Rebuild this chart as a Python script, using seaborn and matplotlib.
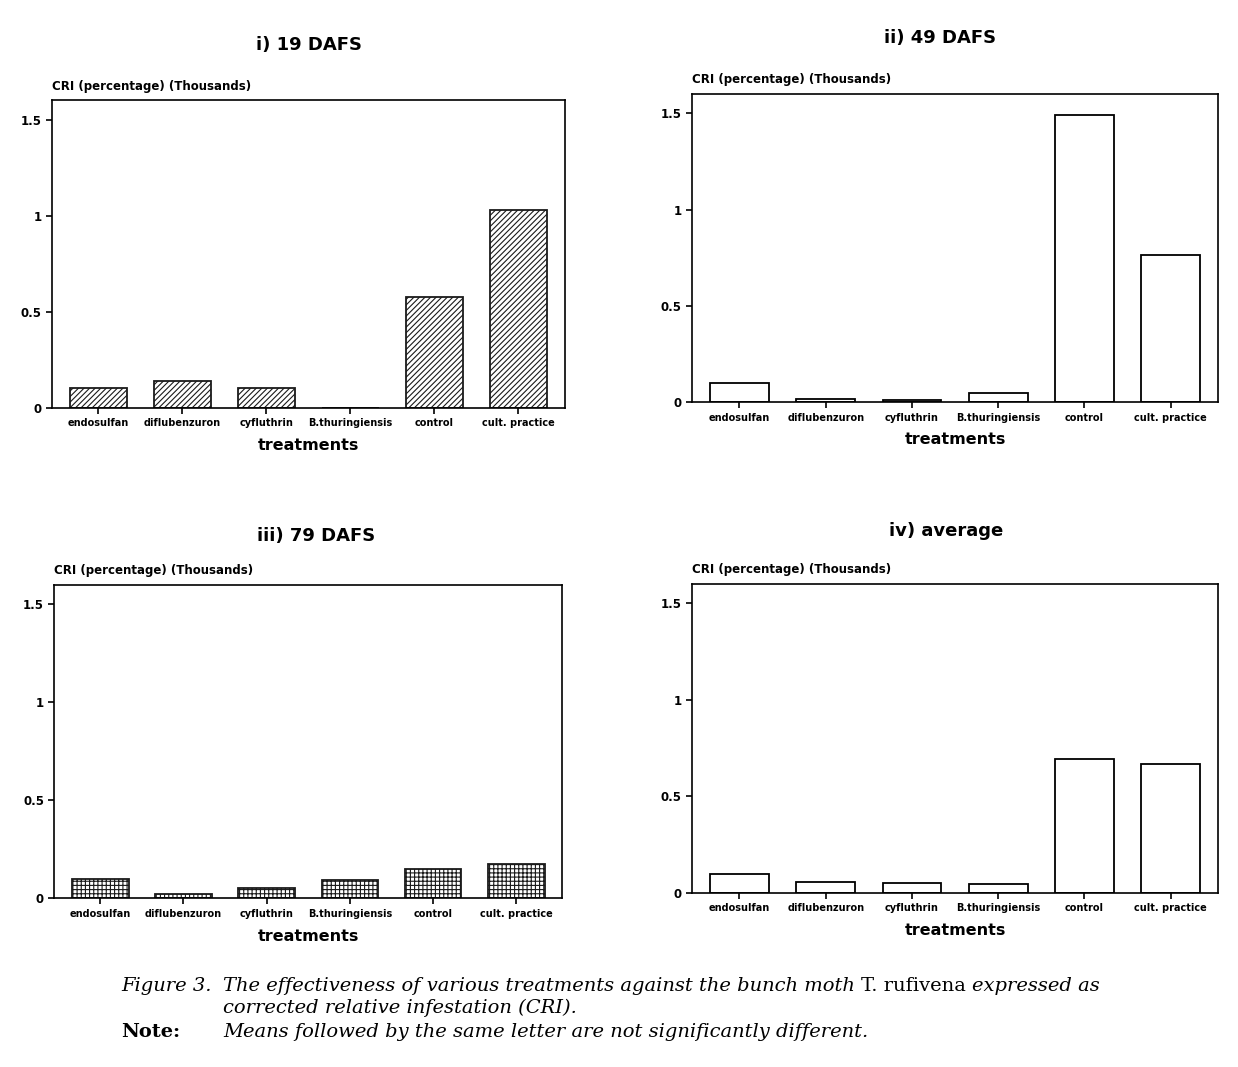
import numpy as np
import pandas as pd
import matplotlib
matplotlib.use("Agg")
import matplotlib.pyplot as plt
import seaborn as sns

# Treatments (x categories)
treatments = ["endosulfan", "diflubenzuron", "cyfluthrin", "B.thuringiensis",
              "control", "cult. practice"]

# CRI values (thousands)
cri_19 = [0.10, 0.14, 0.10, 0.0, 0.575, 1.03]
cri_49 = [0.10, 0.015, 0.01, 0.05, 1.49, 0.765]
cri_79 = [0.10, 0.025, 0.055, 0.095, 0.15, 0.175]
cri_avg = [0.10, 0.055, 0.05, 0.045, 0.695, 0.665]

titles = ["i) 19 DAFS", "ii) 49 DAFS", "iii) 79 DAFS", "iv) average"]
yticks = [0, 0.5, 1, 1.5]
ytick_labels = ["0", "0.5", "1", "1.5"]

sns.set_style("ticks")
plt.rcParams["font.family"] = ["DejaVu Sans"]
plt.rcParams["text.color"] = "black"
plt.rcParams["axes.labelcolor"] = "black"
plt.rcParams["hatch.linewidth"] = 0.8

fig = plt.figure(figsize=(12.38, 10.67), dpi=100)

# axes boxes (left, bottom, width, height) in figure fractions
boxes = [
    [0.042, 0.618, 0.414, 0.288],
    [0.559, 0.623, 0.425, 0.289],
    [0.044, 0.158, 0.410, 0.294],
    [0.559, 0.163, 0.425, 0.290],
]
title_pos = [(0.250, 0.958), (0.759, 0.964), (0.255, 0.498), (0.764, 0.502)]
hatches = ["//////", None, "++++", None]
series = [cri_19, cri_49, cri_79, cri_avg]

for i in range(4):
    ax = fig.add_axes(boxes[i])
    df = pd.DataFrame({"treatment": treatments, "CRI": series[i]})
    sns.barplot(data=df, x="treatment", y="CRI", color="white", saturation=1,
                edgecolor="black", linewidth=1.3, width=0.68, ax=ax)
    if hatches[i]:
        for p in ax.patches:
            p.set_hatch(hatches[i])
            p.set_edgecolor("#1a1a1a")
    ax.set_ylim(0, 1.6)
    ax.set_xlim(-0.55, 5.55)
    ax.set_yticks(yticks)
    ax.set_yticklabels(ytick_labels, fontsize=8.5, fontweight="bold")
    ax.tick_params(axis="x", labelsize=7, length=4, width=1.2, colors="black")
    ax.tick_params(axis="y", length=4, width=1.2, colors="black")
    for lab in ax.get_xticklabels():
        lab.set_fontweight("bold")
    for s in ax.spines.values():
        s.set_visible(True)
        s.set_linewidth(1.2)
        s.set_color("black")
    ax.set_ylabel("")
    ax.set_xlabel("treatments", fontsize=11.5, fontweight="bold", labelpad=7)
    ax.text(0.0, 1.025, "CRI (percentage) (Thousands)", transform=ax.transAxes,
            fontsize=8.5, fontweight="bold", ha="left", va="bottom")
    fig.text(title_pos[i][0], title_pos[i][1], titles[i], fontsize=13,
             fontweight="bold", ha="center", va="center")

# caption, placed piece by piece
renderer = fig.canvas.get_renderer()
W, H = fig.get_size_inches() * fig.dpi
serif = ["DejaVu Serif"]
fs = 14


def put(x_px, y_px, s, **kw):
    t = fig.text(x_px / W, 1 - y_px / H, s, fontsize=fs, family=serif,
                 ha="left", va="center", **kw)
    bb = t.get_window_extent(renderer=renderer)
    return x_px + bb.width


put(121, 986, "Figure 3.", style="italic")
x = put(223, 986, "The effectiveness of various treatments against the bunch moth ",
        style="italic")
x = put(x, 986, "T. rufivena ")
put(x, 986, "expressed as", style="italic")
put(223, 1008, "corrected relative infestation (CRI).", style="italic")
put(121, 1032, "Note:", fontweight="bold")
put(223, 1032, "Means followed by the same letter are not significantly different.",
    style="italic")

fig.savefig("out.png", dpi=100)
